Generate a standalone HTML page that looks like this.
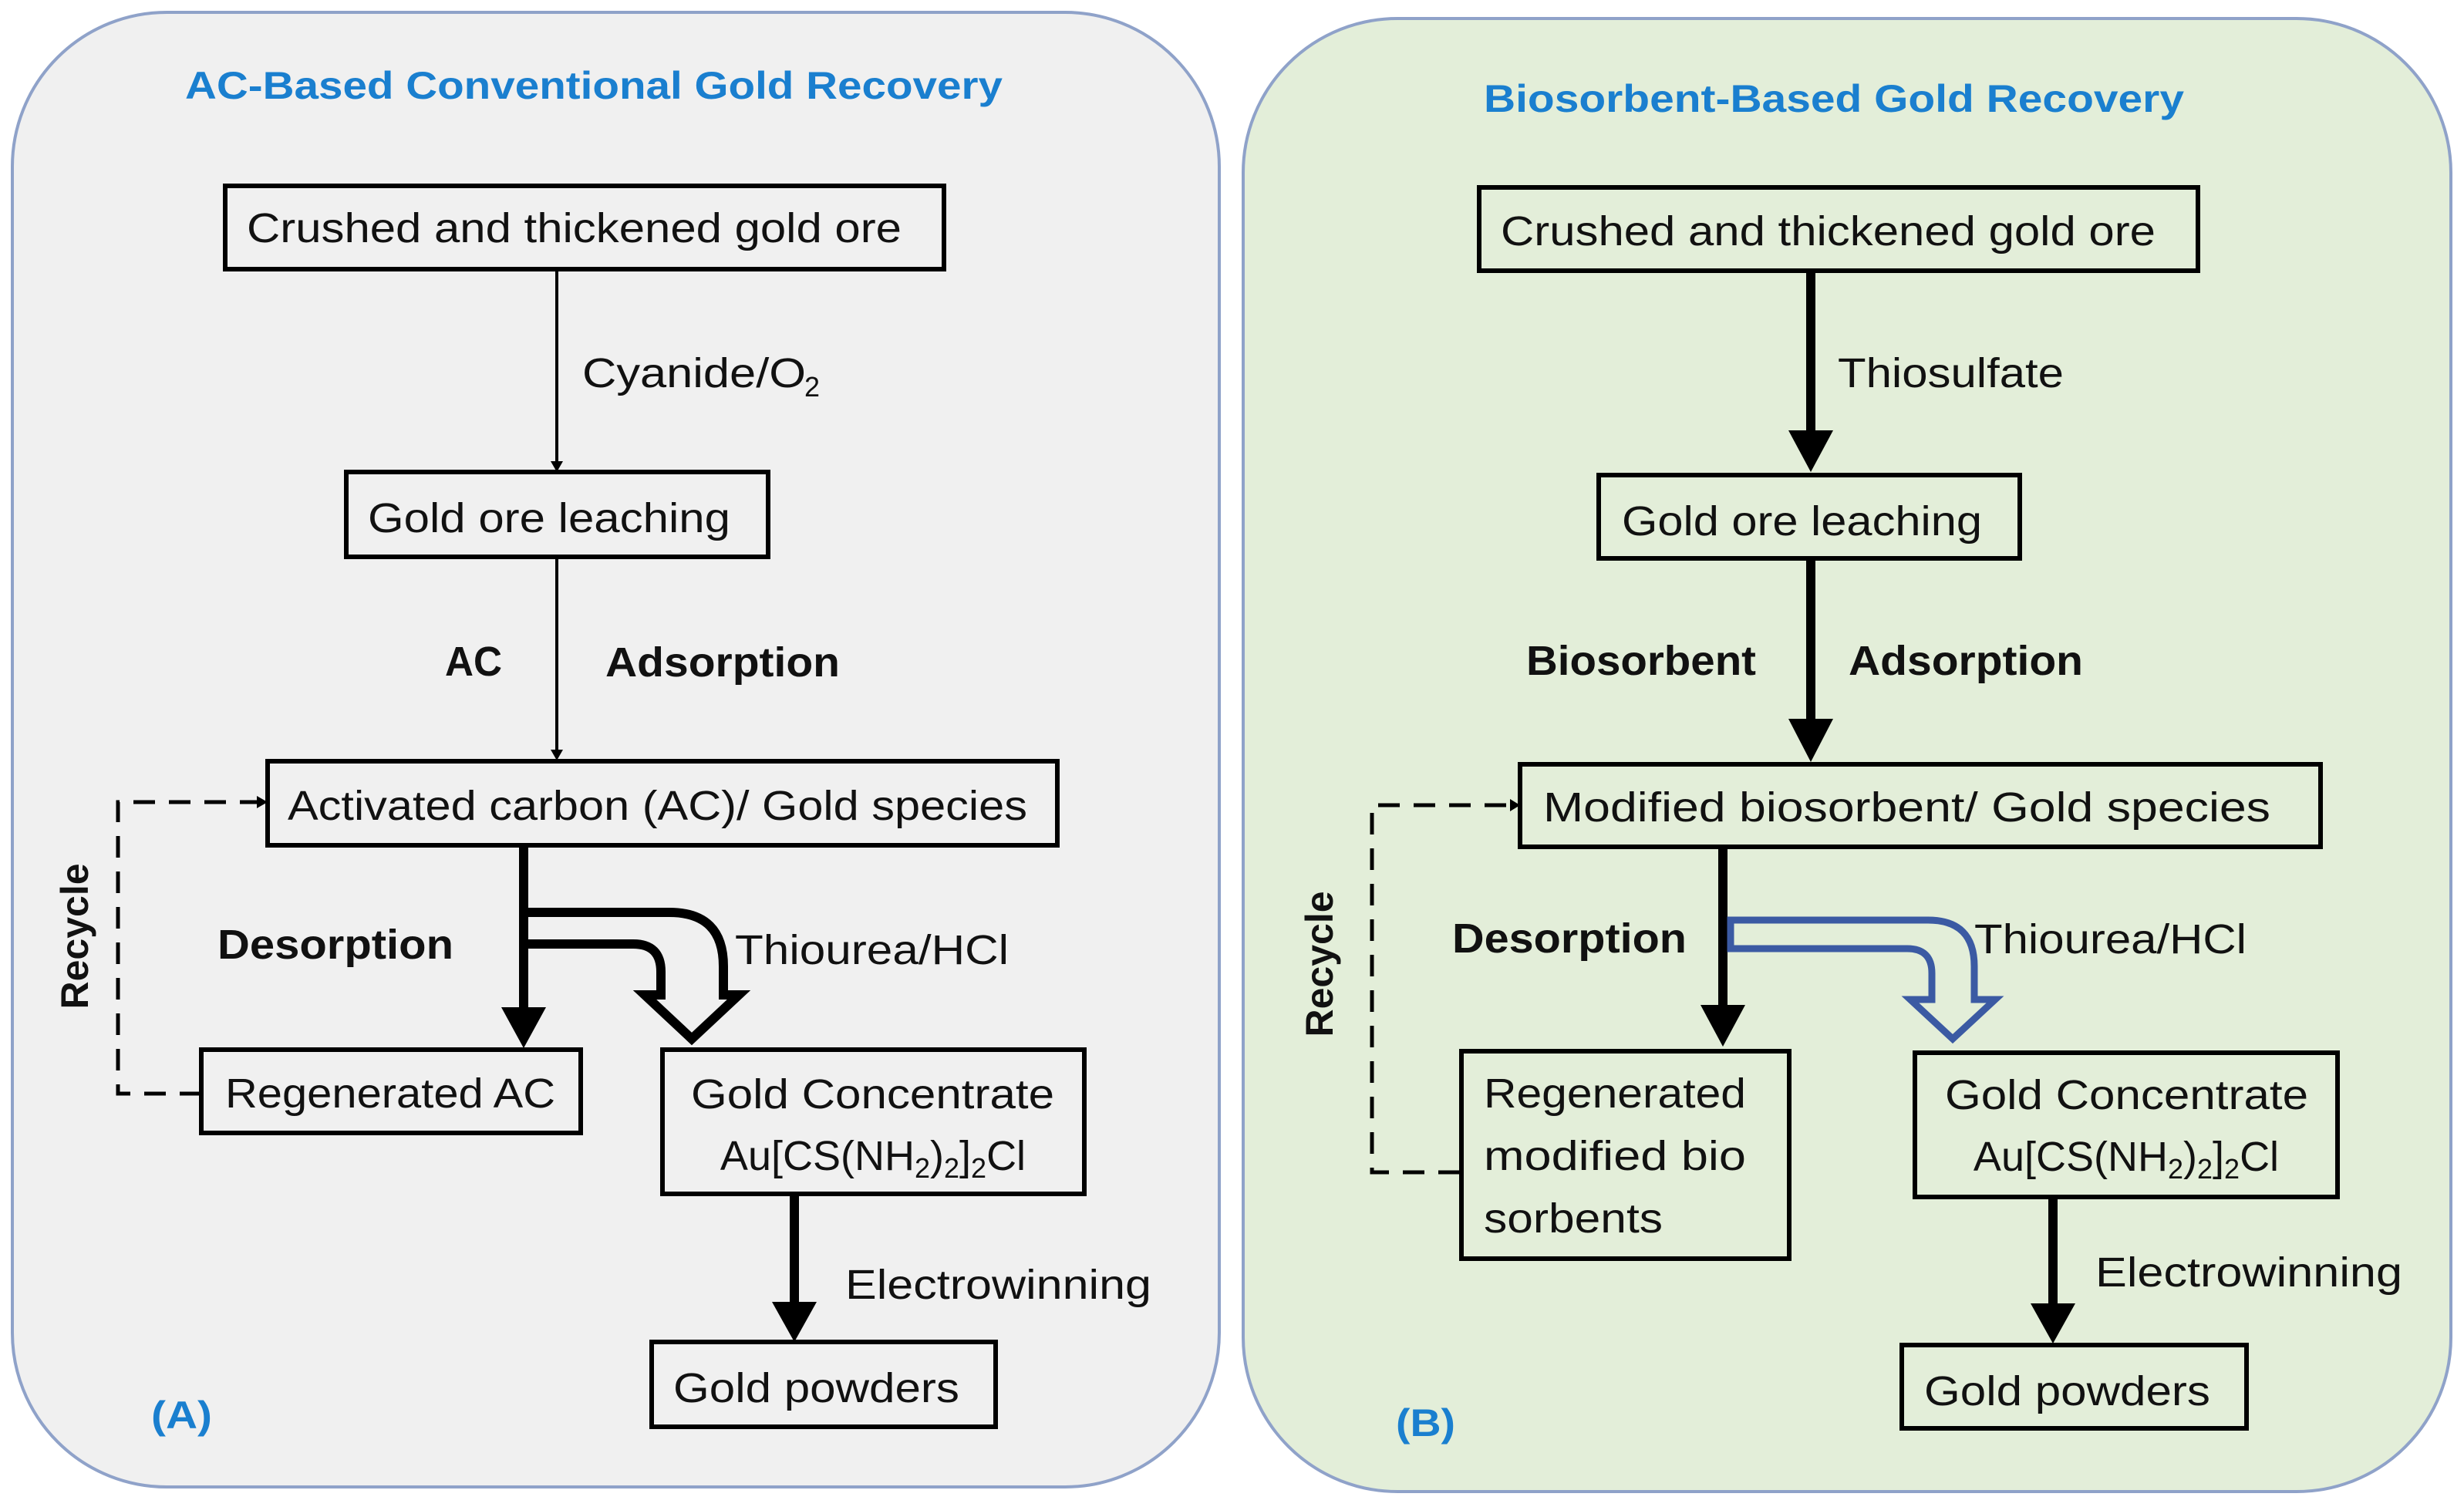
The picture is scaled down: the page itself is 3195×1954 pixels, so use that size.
<!DOCTYPE html>
<html><head><meta charset="utf-8"><style>html,body{margin:0;padding:0;background:#fff}svg{display:block}</style></head>
<body>
<svg width="3195" height="1954" viewBox="0 0 3195 1954" xmlns="http://www.w3.org/2000/svg" font-family="Liberation Sans, sans-serif">
<defs>
<marker id="ts" markerWidth="10" markerHeight="10" refX="5" refY="5" orient="auto" markerUnits="userSpaceOnUse"><path d="M0,0 L10,5 L0,10 z" fill="#000"/></marker>
</defs>
<!-- panels -->
<rect x="16" y="16" width="1565" height="1912" rx="200" fill="#f0f0f0" stroke="#8fa2c9" stroke-width="4"/>
<rect x="1612" y="24" width="1566" height="1910" rx="200" fill="#e3eed9" stroke="#8fa2c9" stroke-width="4"/>

<g font-weight="bold" fill="#1a7fcf" font-size="50">
<text x="240" y="128" textLength="1060" lengthAdjust="spacingAndGlyphs">AC-Based Conventional Gold  Recovery</text>
<text x="1924" y="145" textLength="908" lengthAdjust="spacingAndGlyphs">Biosorbent-Based Gold  Recovery</text>
<text x="196" y="1852" textLength="79" lengthAdjust="spacingAndGlyphs">(A)</text>
<text x="1810" y="1862" textLength="77" lengthAdjust="spacingAndGlyphs">(B)</text>
</g>

<g fill="none" stroke="#000" stroke-width="6">
<!-- left boxes -->
<rect x="292" y="241" width="932" height="108"/>
<rect x="449" y="612" width="547" height="110"/>
<rect x="347" y="987" width="1024" height="109"/>
<rect x="261" y="1361" width="492" height="108"/>
<rect x="859" y="1361" width="547" height="187"/>
<rect x="845" y="1740" width="446" height="110"/>
<!-- right boxes -->
<rect x="1918" y="243" width="932" height="108"/>
<rect x="2073" y="616" width="546" height="108"/>
<rect x="1971" y="991" width="1038" height="107"/>
<rect x="1895" y="1363" width="425" height="269"/>
<rect x="2483" y="1365" width="548" height="187"/>
<rect x="2466" y="1744" width="447" height="108"/>
</g>

<!-- left thin arrows -->
<g stroke="#000" stroke-width="4">
<line x1="722" y1="349" x2="722" y2="602"/>
<line x1="722" y1="722" x2="722" y2="976"/>
</g>
<path d="M714,598 L730,598 L722,612 z M714,972 L730,972 L722,986 z" fill="#000"/>

<!-- thick arrows -->
<g stroke="#000" stroke-width="12">
<line x1="679" y1="1096" x2="679" y2="1310"/>
<line x1="1030" y1="1548" x2="1030" y2="1690"/>
<line x1="2348" y1="351" x2="2348" y2="560"/>
<line x1="2348" y1="724" x2="2348" y2="932"/>
<line x1="2234" y1="1098" x2="2234" y2="1305"/>
<line x1="2662" y1="1552" x2="2662" y2="1690"/>
</g>
<g fill="#000">
<path d="M650,1306 L708,1306 L679,1359 z"/>
<path d="M1001,1688 L1059,1688 L1030,1740 z"/>
<path d="M2319,558 L2377,558 L2348,612 z"/>
<path d="M2319,932 L2377,932 L2348,988 z"/>
<path d="M2205,1303 L2263,1303 L2234,1357 z"/>
<path d="M2633,1690 L2691,1690 L2662,1742 z"/>
</g>

<!-- left double arrow -->
<path d="M685,1183 L868,1183 Q938,1183 938,1253 L938,1290 L958,1290 L897,1347 L836,1290 L857,1290 L857,1260 Q857,1224 821,1224 L685,1224" fill="none" stroke="#000" stroke-width="12" stroke-linejoin="miter"/>
<!-- right blue double arrow -->
<path d="M2244,1193 L2500,1193 Q2560,1193 2560,1253 L2560,1296 L2587,1296 L2532,1347 L2477,1296 L2505,1296 L2505,1262 Q2505,1230 2473,1230 L2244,1230 Z" fill="none" stroke="#3b5aa3" stroke-width="9"/>

<!-- dashed recycle -->
<g fill="none" stroke="#000" stroke-width="5" stroke-dasharray="28,18">
<path d="M261,1418 L153,1418 L153,1040 L335,1040"/>
<path d="M1893,1520 L1779,1520 L1779,1044 L1960,1044"/>
</g>
<path d="M333,1032 L347,1040 L333,1048 z M1958,1036 L1971,1044 L1958,1052 z" fill="#000"/>

<!-- text -->
<g fill="#111" font-size="54">
<text x="320" y="314" textLength="849" lengthAdjust="spacingAndGlyphs">Crushed and thickened gold ore</text>
<text x="755" y="502" textLength="290" lengthAdjust="spacingAndGlyphs">Cyanide/O</text>
<text x="1043" y="514" font-size="36">2</text>
<text x="477" y="690" textLength="470" lengthAdjust="spacingAndGlyphs">Gold ore leaching</text>
<text x="373" y="1063" textLength="959" lengthAdjust="spacingAndGlyphs">Activated carbon (AC)/ Gold species</text>
<text x="953" y="1250" textLength="355" lengthAdjust="spacingAndGlyphs">Thiourea/HCl</text>
<text x="292" y="1436" textLength="428" lengthAdjust="spacingAndGlyphs">Regenerated AC</text>
<text x="896" y="1437" textLength="471" lengthAdjust="spacingAndGlyphs">Gold Concentrate</text>
<text x="1132" y="1517" text-anchor="middle">Au[CS(NH<tspan font-size="36" dy="10">2</tspan><tspan dy="-10">)</tspan><tspan font-size="36" dy="10">2</tspan><tspan dy="-10">]</tspan><tspan font-size="36" dy="10">2</tspan><tspan dy="-10">Cl</tspan></text>
<text x="1096" y="1684" textLength="397" lengthAdjust="spacingAndGlyphs">Electrowinning</text>
<text x="873" y="1818" textLength="371" lengthAdjust="spacingAndGlyphs">Gold powders</text>

<text x="1946" y="318" textLength="849" lengthAdjust="spacingAndGlyphs">Crushed and thickened gold ore</text>
<text x="2383" y="502" textLength="293" lengthAdjust="spacingAndGlyphs">Thiosulfate</text>
<text x="2103" y="694" textLength="467" lengthAdjust="spacingAndGlyphs">Gold ore leaching</text>
<text x="2001" y="1065" textLength="943" lengthAdjust="spacingAndGlyphs">Modified biosorbent/  Gold species</text>
<text x="2560" y="1236" textLength="353" lengthAdjust="spacingAndGlyphs">Thiourea/HCl</text>
<text x="1924" y="1436" textLength="340" lengthAdjust="spacingAndGlyphs">Regenerated</text>
<text x="1924" y="1517" textLength="340" lengthAdjust="spacingAndGlyphs">modified bio</text>
<text x="1924" y="1598" textLength="232" lengthAdjust="spacingAndGlyphs">sorbents</text>
<text x="2522" y="1438" textLength="471" lengthAdjust="spacingAndGlyphs">Gold Concentrate</text>
<text x="2757" y="1518" text-anchor="middle">Au[CS(NH<tspan font-size="36" dy="10">2</tspan><tspan dy="-10">)</tspan><tspan font-size="36" dy="10">2</tspan><tspan dy="-10">]</tspan><tspan font-size="36" dy="10">2</tspan><tspan dy="-10">Cl</tspan></text>
<text x="2717" y="1668" textLength="398" lengthAdjust="spacingAndGlyphs">Electrowinning</text>
<text x="2495" y="1822" textLength="371" lengthAdjust="spacingAndGlyphs">Gold powders</text>
</g>
<g fill="#111" font-size="54" font-weight="bold">
<text x="577" y="876" textLength="74" lengthAdjust="spacingAndGlyphs">AC</text>
<text x="785" y="877" textLength="304" lengthAdjust="spacingAndGlyphs">Adsorption</text>
<text x="282" y="1243" textLength="306" lengthAdjust="spacingAndGlyphs">Desorption</text>
<text x="1979" y="875" textLength="298" lengthAdjust="spacingAndGlyphs">Biosorbent</text>
<text x="2397" y="875" textLength="304" lengthAdjust="spacingAndGlyphs">Adsorption</text>
<text x="1883" y="1235" textLength="304" lengthAdjust="spacingAndGlyphs">Desorption</text>
<text transform="translate(114,1214) rotate(-90)" text-anchor="middle" font-size="50">Recycle</text>
<text transform="translate(1728,1250) rotate(-90)" text-anchor="middle" font-size="50">Recycle</text>
</g>
</svg>
</body></html>
